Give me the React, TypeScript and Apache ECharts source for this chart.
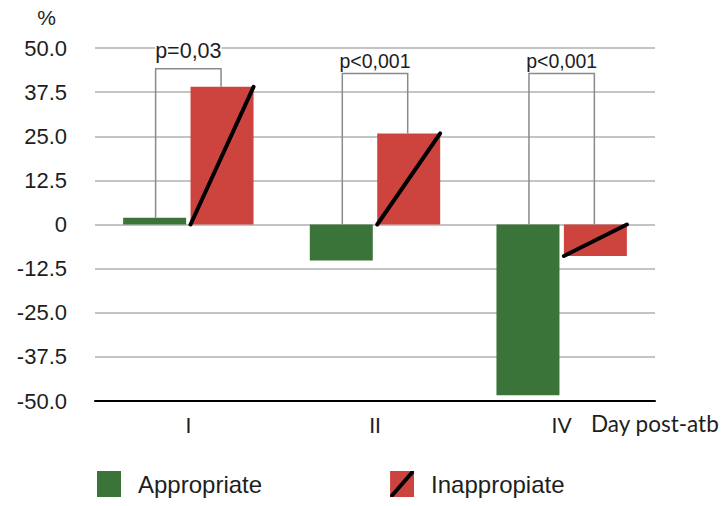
import React, { useEffect, useRef } from "react";
import * as echarts from "echarts";

// ---- data ----
const categories = ["I", "II", "IV"];
const appropriate = [1.9, -10.2, -48.4];
const inappropriate = [39.0, 25.8, -8.9];
const pLabels = ["p=0,03", "p<0,001", "p<0,001"];
const bracketTop = [44.1, 42.8, 42.8];
const yMin = -50;
const yMax = 50;
const yStep = 12.5;
const seriesNames = ["Appropriate", "Inappropiate"];
const xAxisName = "Day post-atb";
const yAxisName = "%";

// ---- styles ----
const GREEN = "#3b7439";
const RED = "#cd443f";
const TEXT = "#1e1e1e";
const FONT = "'Liberation Sans', Arial, Helvetica, sans-serif";
const FONT_X = "Lato, 'Open Sans', sans-serif";
const BAR_W = 63;
const BAR_GAP_PCT = 7;
const BAR_GAP = (BAR_W * BAR_GAP_PCT) / 100;
const LABEL_SIZE = [21.5, 19.5, 19.5];
const LABEL_LIFT = [18, 12.4, 12.4];

const iconSvg =
  "<svg xmlns='http://www.w3.org/2000/svg' width='24' height='26' viewBox='0 0 24 26'>" +
  `<rect x='0' y='0' width='24' height='26' fill='${RED}'/>` +
  "<line x1='2' y1='24.5' x2='22' y2='1.5' stroke='#000' stroke-width='4' stroke-linecap='round'/></svg>";
const redIcon = "image://data:image/svg+xml;charset=utf-8," + encodeURIComponent(iconSvg);

export default function App() {
  const ref = useRef<HTMLDivElement>(null);

  useEffect(() => {
    document.body.style.margin = "0";
    if (!ref.current) return;
    const chart = echarts.init(ref.current, null, { renderer: "svg" });

    const diagData = inappropriate.map((v, i) => [i, v]);
    const bracketData = categories.map((_, i) => [
      i,
      bracketTop[i],
      Math.max(appropriate[i], 0),
      Math.max(inappropriate[i], 0),
    ]);

    const option: any = {
      animation: false,
      tooltip: { show: false },
      grid: { left: 95, right: 72, top: 48, bottom: 105, containLabel: false },
      legend: {
        left: 97,
        top: 471,
        padding: 0,
        itemWidth: 24,
        itemHeight: 26,
        itemGap: 128,
        selectedMode: false,
        textStyle: { fontSize: 24, color: TEXT, fontFamily: FONT, padding: [0, 0, 0, 12] },
        data: [
          { name: seriesNames[0], icon: "rect" },
          { name: seriesNames[1], icon: redIcon },
        ],
      },
      xAxis: {
        type: "category",
        data: categories,
        axisLine: { onZero: false, lineStyle: { color: "#000", width: 2 } },
        axisTick: { show: false },
        axisLabel: { margin: 13, fontSize: 21, color: TEXT, fontFamily: FONT_X },
        splitLine: { show: false },
      },
      yAxis: {
        type: "value",
        min: yMin,
        max: yMax,
        interval: yStep,
        axisLine: { show: false },
        axisTick: { show: false },
        axisLabel: {
          margin: 28,
          fontSize: 22,
          color: TEXT,
          fontFamily: FONT,
          formatter: (v: number) => (v === 0 ? "0" : v.toFixed(1)),
        },
        splitLine: { lineStyle: { color: "#b0b0b0", width: 1.5 } },
      },
      graphic: [
        {
          type: "text",
          x: 46.5,
          y: 17.5,
          style: {
            text: yAxisName,
            align: "center",
            verticalAlign: "middle",
            fontSize: 21,
            fontFamily: FONT,
            fill: TEXT,
          },
        },
        {
          type: "text",
          x: 591,
          y: 423,
          style: {
            text: xAxisName,
            align: "left",
            verticalAlign: "middle",
            fontSize: 22.5,
            fontFamily: FONT_X,
            fill: TEXT,
          },
        },
      ],
      series: [
        {
          name: seriesNames[0],
          type: "bar",
          data: appropriate,
          barWidth: BAR_W,
          barGap: BAR_GAP_PCT + "%",
          itemStyle: { color: GREEN },
        },
        {
          name: seriesNames[1],
          type: "bar",
          data: inappropriate,
          barWidth: BAR_W,
          barGap: BAR_GAP_PCT + "%",
          itemStyle: { color: RED },
        },
        {
          name: "diag",
          type: "custom",
          silent: true,
          z: 5,
          data: diagData,
          encode: { x: 0, y: 1 },
          renderItem: (params: any, api: any) => {
            const i = params.dataIndex;
            const base = api.coord([i, 0]);
            const top = api.coord([i, api.value(1)]);
            const x0 = base[0] + BAR_GAP / 2;
            const x1 = x0 + BAR_W;
            const yLow = Math.max(base[1], top[1]);
            const yHigh = Math.min(base[1], top[1]);
            return {
              type: "line",
              shape: { x1: x0, y1: yLow, x2: x1, y2: yHigh },
              style: { stroke: "#000", lineWidth: 4, lineCap: "round" },
            };
          },
        },
        {
          name: "brackets",
          type: "custom",
          silent: true,
          z: 6,
          data: bracketData,
          encode: { x: 0, y: 1 },
          renderItem: (params: any, api: any) => {
            const i = params.dataIndex;
            const cx = api.coord([i, 0])[0];
            const half = (BAR_W + BAR_GAP) / 2 - 1;
            const lx = cx - half;
            const rx = cx + half;
            const yTop = api.coord([i, api.value(1)])[1];
            const yL = api.coord([i, api.value(2)])[1];
            const yR = api.coord([i, api.value(3)])[1];
            return {
              type: "group",
              children: [
                {
                  type: "polyline",
                  shape: { points: [[lx, yL], [lx, yTop], [rx, yTop], [rx, yR]] },
                  style: { stroke: "#8a8a8a", lineWidth: 1.5, fill: "none" },
                },
                {
                  type: "text",
                  x: (lx + rx) / 2,
                  y: yTop - LABEL_LIFT[i],
                  style: {
                    text: pLabels[i],
                    align: "center",
                    verticalAlign: "middle",
                    fontSize: LABEL_SIZE[i],
                    fontFamily: FONT,
                    fill: TEXT,
                    backgroundColor: "#fff",
                    lineHeight: 18,
                  },
                },
              ],
            };
          },
        },
      ],
    };

    chart.setOption(option);
    return () => chart.dispose();
  }, []);

  return <div ref={ref} style={{ width: 727, height: 506, background: "#fff" }} />;
}
